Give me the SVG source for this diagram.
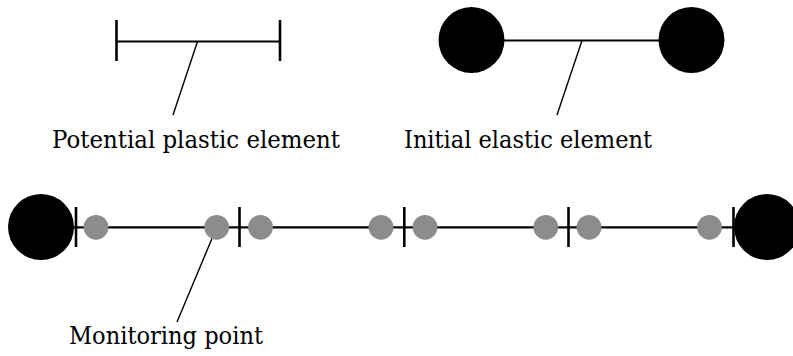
<svg xmlns="http://www.w3.org/2000/svg" width="793" height="356" viewBox="0 0 793 356">
<style>
.ln{stroke:#000;stroke-width:2.2;fill:none}
.tk{stroke:#000;stroke-width:2.6;fill:none}
.ld{stroke:#000;stroke-width:1.4;fill:none}
.big{fill:#000}
.mp{fill:#8c8c8c}
</style>
<rect width="793" height="356" fill="#fff"/>
<g id="plastic-element">
<line class="ln" x1="116" y1="41.5" x2="280" y2="41.5"/>
<line class="tk" x1="116.5" y1="20" x2="116.5" y2="61"/>
<line class="tk" x1="280" y1="20" x2="280" y2="61"/>
</g>
<g id="elastic-element">
<line class="ln" x1="472" y1="40.5" x2="691" y2="40.5"/>
<circle class="big" cx="471.5" cy="40" r="33"/>
<circle class="big" cx="691.5" cy="40" r="33"/>
</g>
<g id="connectors">
<line class="ld" x1="197.5" y1="41.5" x2="173" y2="115"/>
<line class="ld" x1="582" y1="40.5" x2="557" y2="115"/>
<line class="ld" x1="216.7" y1="227.3" x2="177" y2="322"/>
</g>
<g id="chain">
<line class="ln" x1="60" y1="227.3" x2="740" y2="227.3"/>
<circle class="big" cx="41" cy="227" r="33"/>
<circle class="big" cx="767" cy="227" r="33"/>
<line class="tk" x1="76" y1="207" x2="76" y2="247"/>
<line class="tk" x1="239.5" y1="207" x2="239.5" y2="247"/>
<line class="tk" x1="404.3" y1="207" x2="404.3" y2="247"/>
<line class="tk" x1="568.5" y1="207" x2="568.5" y2="247"/>
<line class="tk" x1="733.5" y1="207" x2="733.5" y2="247"/>
<circle class="mp" cx="96" cy="227.3" r="12.4"/>
<circle class="mp" cx="216.7" cy="227.3" r="12.4"/>
<circle class="mp" cx="260.5" cy="227.3" r="12.4"/>
<circle class="mp" cx="381" cy="227.3" r="12.4"/>
<circle class="mp" cx="425" cy="227.3" r="12.4"/>
<circle class="mp" cx="545.8" cy="227.3" r="12.4"/>
<circle class="mp" cx="589" cy="227.3" r="12.4"/>
<circle class="mp" cx="709.5" cy="227.3" r="12.4"/>
</g>
<g id="labels" font-family="'DejaVu Serif', 'Liberation Serif', serif" font-size="24" fill="#000">
<text x="52" y="148" textLength="288" lengthAdjust="spacingAndGlyphs">Potential plastic element</text>
<text x="404" y="148" textLength="248" lengthAdjust="spacingAndGlyphs">Initial elastic element</text>
<text x="69" y="344" textLength="194" lengthAdjust="spacingAndGlyphs">Monitoring point</text>
</g>
</svg>
